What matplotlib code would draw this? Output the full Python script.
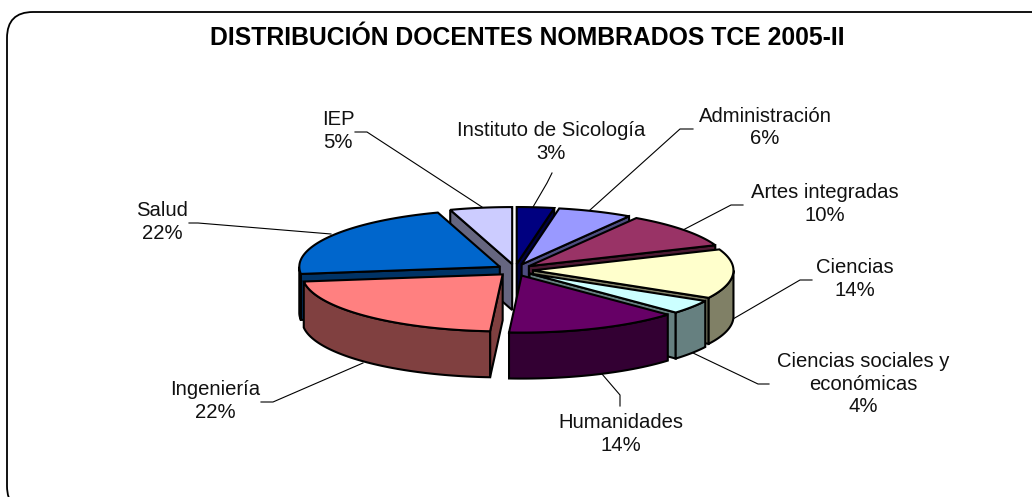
import numpy as np
import matplotlib
matplotlib.use('Agg')
import matplotlib.pyplot as plt
from matplotlib.patches import FancyBboxPatch, Polygon

plt.rcParams['font.family'] = ['Liberation Sans', 'DejaVu Sans']

# Data, clockwise from 12 o'clock
categories = ['Instituto de Sicología', 'Administración', 'Artes integradas', 'Ciencias',
              'Ciencias sociales y\neconómicas', 'Humanidades', 'Ingeniería', 'Salud', 'IEP']
values = [3, 6, 10, 14, 4, 14, 22, 22, 5]

top_colors = ['#000080', '#9999FF', '#993366', '#FFFFCC', '#CCFFFF',
              '#660066', '#FF8080', '#0066CC', '#CCCCFF']
side_colors = ['#000040', '#4D4D80', '#4D1A33', '#808066', '#668080',
               '#330033', '#804040', '#003366', '#666680']

# label centre (px) and leader line (px)
label_pos = [(551, 142), (765, 127.5), (825, 204), (855, 279), (863, 384),
             (621, 434), (215, 401), (162, 222), (338, 131)]
leader_lines = [
    [(552, 173), (547, 183), (533, 207)],
    [(693, 129), (680, 129), (590, 210)],
    [(743, 205), (731, 205), (683, 230)],
    [(812, 280), (800, 280), (733, 319)],
    [(769, 384), (758, 384), (693, 353)],
    [(620, 406), (620, 395), (602, 374)],
    [(261, 402), (273, 402), (363, 363)],
    [(189, 223), (198, 223), (331, 234)],
    [(355, 132), (367, 132), (482, 207)],
]

W, H = 1032, 497
cx, cy = 515, 270     # pie centre
rx, ry = 200.5, 57    # top face ellipse
ex, ey = 18, 6        # explosion
depth = 46

fig = plt.figure(figsize=(W / 100, H / 100), dpi=100)
ax = fig.add_axes([0, 0, 1, 1])
ax.set_xlim(0, W)
ax.set_ylim(H, 0)
ax.axis('off')

# frame runs off the right and bottom of the picture
ax.add_patch(FancyBboxPatch((32, 37), 1000, 450, boxstyle='round,pad=25,rounding_size=26',
                            facecolor='white', edgecolor='black', lw=1.3))

ax.text(527, 38, 'DISTRIBUCIÓN DOCENTES NOMBRADOS TCE 2005-II', ha='center', va='center',
        fontsize=17.8, fontweight='bold', color='black')

total = sum(values)
edges = np.cumsum([0] + values) / total * 360


def pt(theta, ax0, ay0):
    t = np.radians(theta)
    return np.column_stack([ax0 + rx * np.sin(t), ay0 - ry * np.cos(t)])


slices = []
for i in range(len(values)):
    a0, a1 = edges[i], edges[i + 1]
    mid = np.radians((a0 + a1) / 2)
    slices.append((np.cos(mid), i))
slices.sort(reverse=True)

for line in leader_lines:
    xs, ys = zip(*line)
    ax.plot(xs, ys, color='black', lw=0.8, zorder=1)

for _, i in slices:
    a0, a1 = edges[i], edges[i + 1]
    mid = (a0 + a1) / 2
    ox = cx + ex * np.sin(np.radians(mid))
    oy = cy - ey * np.cos(np.radians(mid))
    apex = np.array([ox, oy])
    arc = pt(np.linspace(a0, a1, 60), ox, oy)
    mpt = pt(np.array([mid]), ox, oy)[0]
    side = side_colors[i]

    # radial walls, only those that face the viewer
    for rim in (arc[0], arc[-1]):
        d = rim - apex
        inner = d[0] * (mpt - apex)[1] - d[1] * (mpt - apex)[0]
        down = d[0] * depth
        if inner * down < 0:
            quad = [apex, rim, rim + [0, depth], apex + [0, depth]]
            ax.add_patch(Polygon(quad, closed=True, facecolor=side, edgecolor='black', lw=1.5))

    # outer wall for the front half of the rim
    lo, hi = max(a0, 90), min(a1, 270)
    if hi > lo:
        front = pt(np.linspace(lo, hi, 60), ox, oy)
        wall = np.vstack([front, (front + [0, depth])[::-1]])
        ax.add_patch(Polygon(wall, closed=True, facecolor=side, edgecolor='black', lw=1.5))

    ax.add_patch(Polygon(np.vstack([apex, arc]), closed=True, facecolor=top_colors[i],
                         edgecolor='black', lw=1.5))

for name, val, (lx, ly) in zip(categories, values, label_pos):
    ax.text(lx, ly, f'{name}\n{val}%', ha='center', va='center', fontsize=14.6,
            color='#111111', linespacing=1.25)

fig.savefig('out.png', dpi=100)
